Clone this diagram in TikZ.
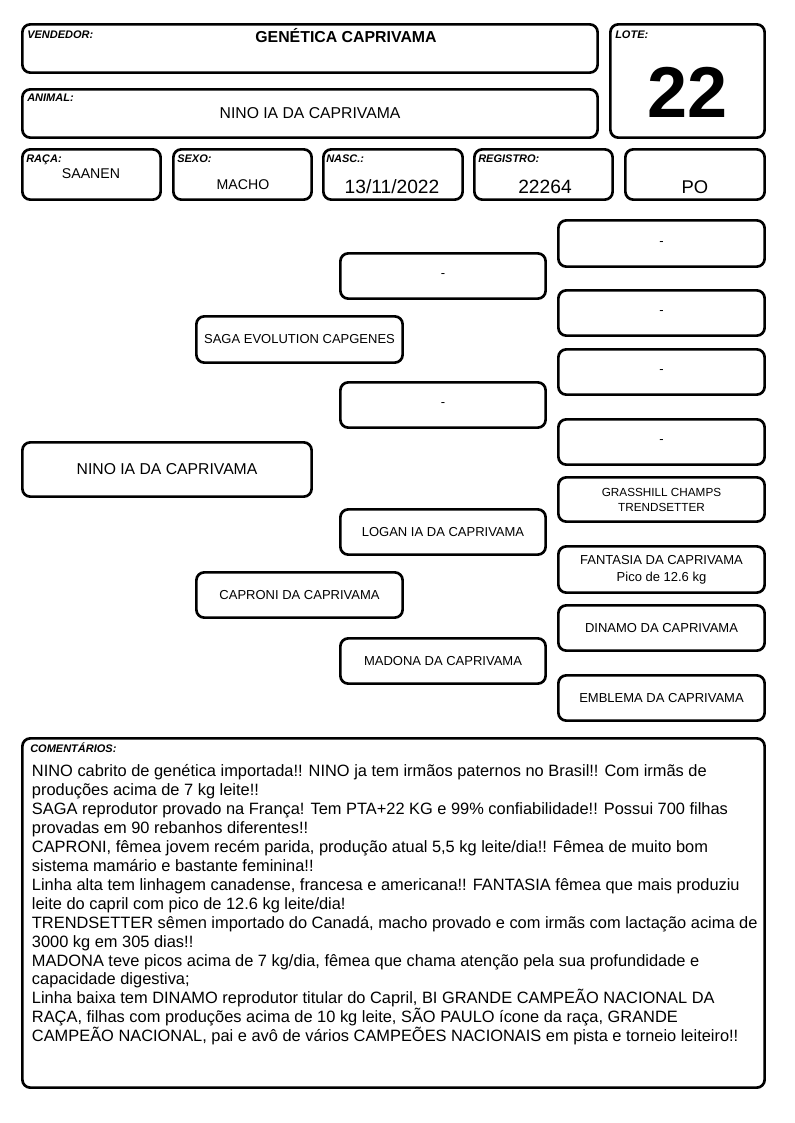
\documentclass[tikz,border=0pt]{standalone}
\usepackage{fontspec}
\setmainfont{Liberation Sans}
\newcommand\pgbox[7]{%
  \node[frame,#1,minimum width={(#5-#3-2.7)*0.75pt},minimum height={(#6-#4-2.7)*0.75pt}] (#2) at ({(#3+#5)/2},{(#4+#6)/2}) {#7};}
\begin{document}
\begin{tikzpicture}[x=0.75pt,y=-0.75pt,
  frame/.style={draw=black,line width=2pt,rounded corners=6pt,inner sep=0pt,align=center,font=\fontsize{9.75}{12.75}\selectfont},
  lbl/.style={anchor=base west,inner sep=0pt,font=\fontsize{8.25}{10}\selectfont\bfseries\itshape},
  val/.style={anchor=base,inner sep=0pt},
  cline/.style={anchor=base west,inner sep=0pt,font=\fontsize{12.3}{14.2}\selectfont}]
\useasboundingbox (0,0) rectangle (794,1123);
\fill[white] (0,0) rectangle (794,1123);
% header boxes
\pgbox{}{vend}{21}{23}{599}{74}{}
\pgbox{}{lote}{609}{23}{766}{139}{}
\pgbox{}{anim}{21}{88}{599}{139}{}
\pgbox{}{raca}{21}{148}{162}{201}{}
\pgbox{}{sexo}{172}{148}{313}{201}{}
\pgbox{}{nasc}{322}{148}{464}{201}{}
\pgbox{}{regi}{473}{148}{614}{201}{}
\pgbox{}{po}{624}{148}{766}{201}{}
% header labels
\node[lbl] (lvend) at (27,39) {VENDEDOR:};
\node[lbl] (llote) at (615,39) {LOTE:};
\node[lbl] (lanim) at (27,102) {ANIMAL:};
\node[lbl] (lraca) at (26,162.5) {RAÇA:};
\node[lbl] (lsexo) at (177,162.5) {SEXO:};
\node[lbl] (lnasc) at (326,162.5) {NASC.:};
\node[lbl] (lregi) at (478,162.5) {REGISTRO:};
% header values
\node[val,font=\fontsize{11.9}{14}\selectfont\bfseries] (vvend) at (346,42.7) {GENÉTICA CAPRIVAMA};
\node[val,font=\fontsize{54}{60}\selectfont\bfseries] (vlote) at (688,118) {22};
\node[val,font=\fontsize{11.8}{14}\selectfont] (vanim) at (310,119) {NINO IA DA CAPRIVAMA};
\node[val,font=\fontsize{10.6}{13}\selectfont] (vraca) at (91,178.5) {SAANEN};
\node[val,font=\fontsize{10.6}{13}\selectfont] (vsexo) at (243,189.5) {MACHO};
\node[val,font=\fontsize{14.4}{17}\selectfont] (vnasc) at (392,193.3) {13/11/2022};
\node[val,font=\fontsize{14.4}{17}\selectfont] (vregi) at (545,193.3) {22264};
\node[val,font=\fontsize{13.8}{17}\selectfont] (vpo) at (695,193.5) {PO};
% pedigree
\pgbox{font=\fontsize{11.8}{14}\selectfont}{main}{21}{441}{313}{498}{NINO IA DA CAPRIVAMA}
\pgbox{}{sire}{195}{315}{404}{364}{SAGA EVOLUTION CAPGENES}
\pgbox{}{dam}{195}{571}{404}{619}{CAPRONI DA CAPRIVAMA}
\pgbox{}{ss}{339}{252}{547}{300}{-}
\pgbox{}{sd}{339}{381}{547}{429}{-}
\pgbox{}{ds}{339}{508}{547}{556}{LOGAN IA DA CAPRIVAMA}
\pgbox{}{dd}{339}{637}{547}{685}{MADONA DA CAPRIVAMA}
\pgbox{}{sss}{557}{219}{766}{268}{-}
\pgbox{}{ssd}{557}{289}{766}{337}{-}
\pgbox{}{sds}{557}{348}{766}{396}{-}
\pgbox{}{sdd}{557}{418}{766}{466}{-}
\pgbox{font=\fontsize{8.8}{11.25}\selectfont}{dss}{557}{476}{766}{523}{GRASSHILL CHAMPS\\TRENDSETTER}
\pgbox{}{dsd}{557}{545}{766}{594}{FANTASIA DA CAPRIVAMA\\Pico de 12.6 kg}
\pgbox{}{dds}{557}{604}{766}{652}{DINAMO DA CAPRIVAMA}
\pgbox{}{ddd}{557}{674}{766}{722}{EMBLEMA DA CAPRIVAMA}
% comments
\pgbox{}{com}{21}{737}{766}{1089}{}
\node[lbl] (lcom) at (30,752) {COMENTÁRIOS:};
\foreach \t [count=\i] in {
 {NINO cabrito de genética importada!! NINO ja tem irmãos paternos no Brasil!! Com irmãs de},
 {produções acima de 7 kg leite!!},
 {SAGA reprodutor provado na França! Tem PTA+22 KG e 99\% confiabilidade!! Possui 700 filhas},
 {provadas em 90 rebanhos diferentes!!},
 {CAPRONI, fêmea jovem recém parida, produção atual 5,5 kg leite/dia!! Fêmea de muito bom},
 {sistema mamário e bastante feminina!!},
 {Linha alta tem linhagem canadense, francesa e americana!! FANTASIA fêmea que mais produziu},
 {leite do capril com pico de 12.6 kg leite/dia!},
 {TRENDSETTER sêmen importado do Canadá, macho provado e com irmãs com lactação acima de},
 {3000 kg em 305 dias!!},
 {MADONA teve picos acima de 7 kg/dia, fêmea que chama atenção pela sua profundidade e},
 {capacidade digestiva;},
 {Linha baixa tem DINAMO reprodutor titular do Capril, BI GRANDE CAMPEÃO NACIONAL DA},
 {RAÇA, filhas com produções acima de 10 kg leite, SÃO PAULO ícone da raça, GRANDE},
 {CAMPEÃO NACIONAL, pai e avô de vários CAMPEÕES NACIONAIS em pista e torneio leiteiro!!}}
 \node[cline] (c\i) at (31.7,{776.7+(\i-1)*18.93}) {\t};
\end{tikzpicture}
\end{document}
